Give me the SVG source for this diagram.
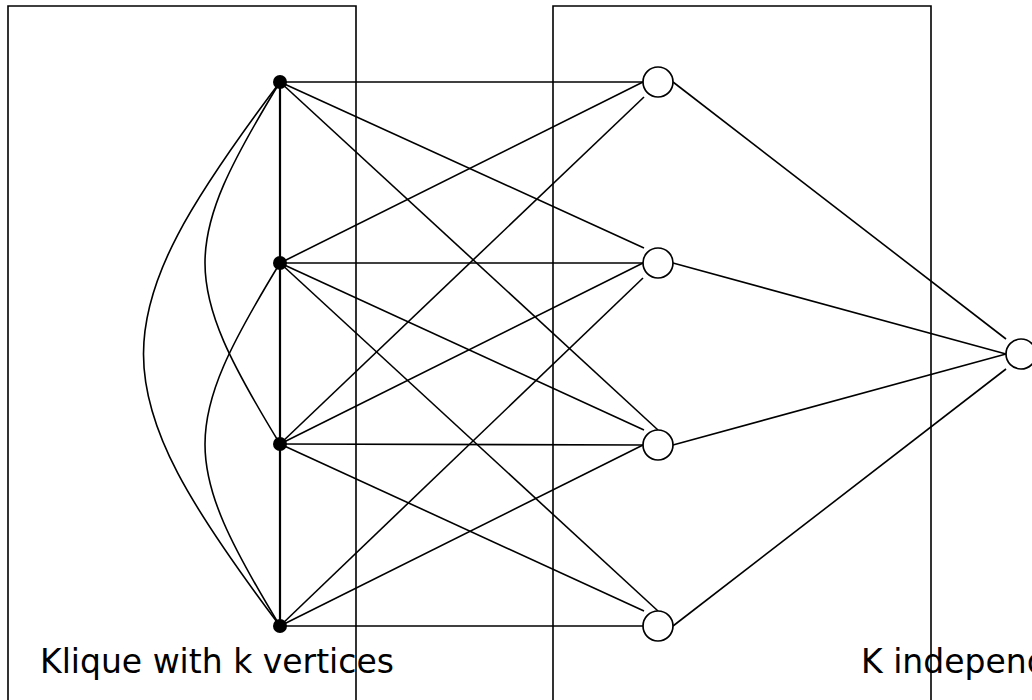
<svg xmlns="http://www.w3.org/2000/svg" width="1032" height="700" viewBox="0 0 1032 700">
  <style>
    .frame { fill: none; stroke: #000; stroke-width: 1.6; }
    .edge { fill: none; stroke: #000; stroke-width: 1.6; }
    .spine { fill: none; stroke: #000; stroke-width: 2.2; }
    .vtx { fill: #000; }
    .ind { fill: #fff; stroke: #000; stroke-width: 1.7; }
    .label { font-family: "DejaVu Sans", Verdana, sans-serif; font-size: 33px; fill: #000; }
  </style>
  <rect width="1032" height="700" fill="#fff"/>

  <!-- Bounding boxes for the two vertex sets -->
  <g id="frames">
    <path class="frame" d="M8,702 V6 H356 V702"/>
    <path class="frame" d="M553,702 V6 H931 V702"/>
  </g>

  <g id="connectors">
    <!-- clique edges -->
    <line class="spine" x1="280" y1="82" x2="280" y2="626"/>
    <path class="edge" d="M280,82 C180,246 180,280 280,444"/>
    <path class="edge" d="M280,263 C180,427 180,461 280,626"/>
    <path class="edge" d="M280,82 C98,324 98,384 280,626"/>
    <!-- clique vertex 1 -->
    <line class="edge" x1="280" y1="82" x2="643" y2="82"/>
    <line class="edge" x1="280" y1="82" x2="644" y2="248"/>
    <line class="edge" x1="280" y1="82" x2="658" y2="430"/>
    <!-- clique vertex 2 -->
    <line class="edge" x1="280" y1="263" x2="643" y2="82"/>
    <line class="edge" x1="280" y1="263" x2="643" y2="263"/>
    <line class="edge" x1="280" y1="263" x2="644" y2="430"/>
    <line class="edge" x1="280" y1="263" x2="658" y2="611"/>
    <!-- clique vertex 3 -->
    <line class="edge" x1="280" y1="444" x2="644" y2="97"/>
    <line class="edge" x1="280" y1="444" x2="643" y2="263"/>
    <line class="edge" x1="280" y1="444" x2="643" y2="445"/>
    <line class="edge" x1="280" y1="444" x2="644" y2="611"/>
    <!-- clique vertex 4 -->
    <line class="edge" x1="280" y1="626" x2="643" y2="278"/>
    <line class="edge" x1="280" y1="626" x2="643" y2="445"/>
    <line class="edge" x1="280" y1="626" x2="643" y2="626"/>
    <!-- independent vertices to the outer vertex -->
    <line class="edge" x1="673" y1="82" x2="1006" y2="339"/>
    <line class="edge" x1="673" y1="263" x2="1006" y2="354"/>
    <line class="edge" x1="673" y1="445" x2="1006" y2="354"/>
    <line class="edge" x1="673" y1="626" x2="1006" y2="369"/>
  </g>

  <g id="clique-v1"><circle class="vtx" cx="280" cy="82" r="7"/></g>
  <g id="clique-v2"><circle class="vtx" cx="280" cy="263" r="7"/></g>
  <g id="clique-v3"><circle class="vtx" cx="280" cy="444" r="7"/></g>
  <g id="clique-v4"><circle class="vtx" cx="280" cy="626" r="7"/></g>

  <g id="ind-v1"><circle class="ind" cx="658" cy="82" r="15"/></g>
  <g id="ind-v2"><circle class="ind" cx="658" cy="263" r="15"/></g>
  <g id="ind-v3"><circle class="ind" cx="658" cy="445" r="15"/></g>
  <g id="ind-v4"><circle class="ind" cx="658" cy="626" r="15"/></g>

  <g id="outer-v"><circle class="ind" cx="1021" cy="354" r="15"/></g>

  <g id="labels">
    <text class="label" x="40" y="673">Klique with k vertices</text>
    <text class="label" x="861" y="673">K independent set</text>
  </g>
</svg>
